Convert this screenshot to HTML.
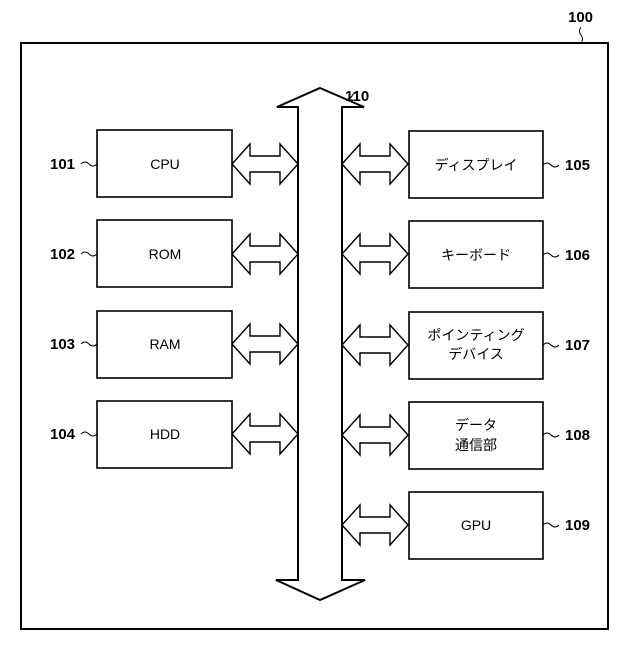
<!DOCTYPE html>
<html><head><meta charset="utf-8"><style>body{margin:0;background:#fff}</style></head><body>
<svg width="640" height="640" viewBox="0 0 640 640" xmlns="http://www.w3.org/2000/svg" font-family="Liberation Sans, Noto Sans CJK JP, sans-serif">
<rect x="21" y="43" width="587" height="586" fill="none" stroke="#000" stroke-width="2"/>
<text x="568" y="22" font-size="15" font-weight="bold">100</text>
<path d="M581 27 q-3 4 0 8 q3 4 0 8" fill="none" stroke="#000"/>
<polygon points="320,88 364,107 342,107 342,580 365,580 320,600 276,580 298,580 298,107 277,107" fill="#fff" stroke="#000" stroke-width="2"/>
<text x="345" y="101" font-size="15" font-weight="bold">110</text>
<path d="M348 99 q3 -1 4 -3 q1 -3 4 -3" fill="none" stroke="#000"/>
<g fill="#fff" stroke="#000" stroke-width="1.6">
<rect x="97" y="130" width="135" height="67"/>
<rect x="97" y="220" width="135" height="67"/>
<rect x="97" y="311" width="135" height="67"/>
<rect x="97" y="401" width="135" height="67"/>
<rect x="409" y="131" width="134" height="67"/>
<rect x="409" y="221" width="134" height="67"/>
<rect x="409" y="312" width="134" height="67"/>
<rect x="409" y="402" width="134" height="67"/>
<rect x="409" y="492" width="134" height="67"/>
</g>
<defs><polygon id="da" points="0,0 18,-20 18,-8 48,-8 48,-20 66,0 48,20 48,8 18,8 18,20" fill="#fff" stroke="#000" stroke-width="1.4"/></defs>
<use href="#da" x="232" y="164"/>
<use href="#da" x="232" y="254"/>
<use href="#da" x="232" y="344"/>
<use href="#da" x="232" y="434"/>
<use href="#da" x="342" y="164"/>
<use href="#da" x="342" y="254"/>
<use href="#da" x="342" y="345"/>
<use href="#da" x="342" y="435"/>
<use href="#da" x="342" y="525"/>
<g font-size="14" text-anchor="middle">
<text x="165" y="169">CPU</text>
<text x="165" y="259">ROM</text>
<text x="165" y="349">RAM</text>
<text x="165" y="439">HDD</text>
<text x="476" y="170">ディスプレイ</text>
<text x="476" y="260">キーボード</text>
<text x="476" y="340">ポインティング</text>
<text x="476" y="359">デバイス</text>
<text x="476" y="430">データ</text>
<text x="476" y="450">通信部</text>
<text x="476" y="530">GPU</text>
</g>
<g font-size="15" font-weight="bold">
<text x="50" y="169">101</text>
<text x="50" y="259">102</text>
<text x="50" y="349">103</text>
<text x="50" y="439">104</text>
<text x="565" y="170">105</text>
<text x="565" y="260">106</text>
<text x="565" y="350">107</text>
<text x="565" y="440">108</text>
<text x="565" y="530">109</text>
</g>
<g fill="none" stroke="#000">
<path d="M81 164 q4 -4 8 0 q4 4 8 0"/>
<path d="M81 254 q4 -4 8 0 q4 4 8 0"/>
<path d="M81 344 q4 -4 8 0 q4 4 8 0"/>
<path d="M81 434 q4 -4 8 0 q4 4 8 0"/>
<path d="M543 165 q4 -4 8 0 q4 4 8 0"/>
<path d="M543 255 q4 -4 8 0 q4 4 8 0"/>
<path d="M543 345 q4 -4 8 0 q4 4 8 0"/>
<path d="M543 435 q4 -4 8 0 q4 4 8 0"/>
<path d="M543 525 q4 -4 8 0 q4 4 8 0"/>
</g>
</svg>
</body></html>
